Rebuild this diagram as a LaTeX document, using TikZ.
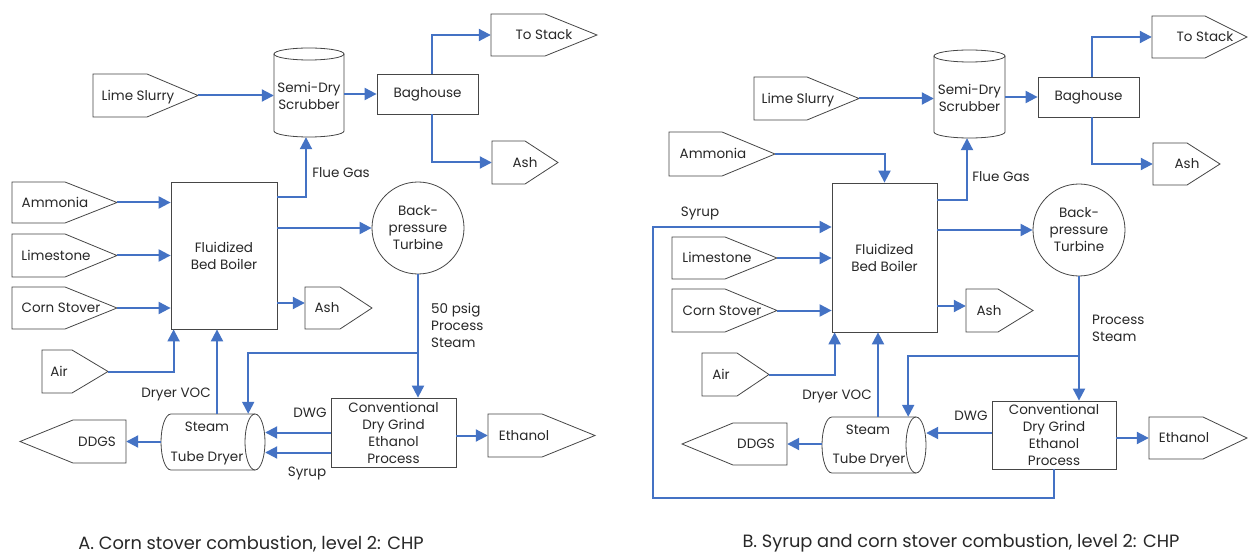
\documentclass[tikz,border=0pt]{standalone}
\usepackage{fontspec}
\setmainfont{Poppins}
\usetikzlibrary{arrows.meta,fit,calc}
\definecolor{flowblue}{RGB}{68,114,196}
\definecolor{edgegray}{RGB}{70,70,70}
\definecolor{txtgray}{RGB}{40,40,40}
\tikzset{
  shapeline/.style={draw=edgegray, line width=0.8pt},
  txt/.style={inner sep=0pt, text=txtgray, font=\fontsize{13.5}{17}\selectfont, text height=9.5pt, text depth=0pt},
  mtxt/.style={inner sep=0pt, text=txtgray, font=\fontsize{13.5}{17}\selectfont},
  box/.style={shapeline, inner sep=0pt, align=center, text=txtgray, font=\fontsize{13.5}{17}\selectfont},
  flow/.style={draw=flowblue, line width=2pt, -{Triangle[length=12pt,width=12pt]}},
  caption/.style={inner sep=0pt, text=txtgray, font=\fontsize{17.8}{21}\selectfont}
}
% right-pointing input/output shape: name, left, top, right(tip), bottom, slant x, text x, text
\newcommand\pentR[8]{%
  \draw[shapeline] (#2,-#3) -- (#6,-#3) -- (#4,{-(#3+#5)/2}) -- (#6,-#5) -- (#2,-#5) -- cycle;
  \node[fit={(#2,-#3) (#4,-#5)}, inner sep=0pt] (#1) {};
  \node[txt] (#1-t) at (#7,{-(#3+#5)/2}) {#8};
}
% left-pointing: name, tip x, top, right, bottom, slant x, text x, text
\newcommand\pentL[8]{%
  \draw[shapeline] (#4,-#3) -- (#6,-#3) -- (#2,{-(#3+#5)/2}) -- (#6,-#5) -- (#4,-#5) -- cycle;
  \node[fit={(#2,-#3) (#4,-#5)}, inner sep=0pt] (#1) {};
  \node[txt] (#1-t) at (#7,{-(#3+#5)/2}) {#8};
}
% vertical cylinder: name, left, top, right, bottom
\newcommand\scrub[5]{%
  \node[fit={(#2,-#3) (#4,-#5)}, inner sep=0pt] (#1) {};
  \draw[shapeline] ({(#2+#4)/2},{-(#3+6)}) ellipse [x radius={(#4-#2)/2}, y radius=6];
  \draw[shapeline] (#2,{-(#3+6)}) -- (#2,{-(#5-6)}) arc[start angle=180, end angle=360, x radius={(#4-#2)/2}, y radius=6] -- (#4,{-(#3+6)});
}
% horizontal cylinder: name, left, top, right, bottom
\newcommand\dryer[5]{%
  \node[fit={(#2,-#3) (#4,-#5)}, inner sep=0pt] (#1) {};
  \draw[shapeline] ({#4-10},{-(#3+#5)/2}) ellipse [x radius=10, y radius={(#5-#3)/2}];
  \draw[shapeline] ({#4-10},-#3) -- ({#2+10},-#3) arc[start angle=90, end angle=270, x radius=10, y radius={(#5-#3)/2}] -- ({#4-10},-#5);
}
\begin{document}
\begin{tikzpicture}[x=1pt,y=1pt]
\useasboundingbox (0,0) rectangle (1248,-556);
\fill[white] (0,0) rectangle (1248,-556);

%%%%%%%%%%%%%%%%%%%% A %%%%%%%%%%%%%%%%%%%%
\pentR{limeA}{93}{74}{198}{117}{147}{138}{Lime Slurry}
\pentR{ammA}{12}{182}{117}{223}{65}{55}{Ammonia}
\pentR{limestA}{12}{234}{117}{277}{65}{56}{Limestone}
\pentR{cornA}{12}{287}{117}{329}{65}{61}{Corn Stover}
\pentR{airA}{42}{350}{108}{393}{72}{59}{Air}
\pentR{stackA}{491}{14}{597}{56}{545}{544}{To Stack}
\pentR{ashAa}{492}{141}{558}{184}{525}{525}{Ash}
\pentR{ashAb}{305}{287}{372}{329}{340}{327}{Ash}
\pentR{ethA}{488}{414}{595}{457}{542}{524}{Ethanol}
\pentL{ddgsA}{20}{420}{126}{463}{73}{97}{DDGS}

\scrub{scrubA}{274}{48}{344}{137}
\node[mtxt, align=center] (scrubA-t) at (309,-95.5) {Semi-Dry\\Scrubber};
\dryer{dryA}{161}{414}{265}{470}
\node[txt] (dryA-t1) at (207,-427) {Steam};
\node[txt] (dryA-t2) at (207,-457) {Tube Dryer};

\node[box, minimum width=106pt, minimum height=147pt] (boilA) at (224,-255.5) {Fluidized\\Bed Boiler};
\node[box, minimum width=101pt, minimum height=40pt] (bagA) at (427.5,-94) {Baghouse};
\node[box, minimum width=125pt, minimum height=69pt] (convA) at (393.5,-432.5) {Conventional\\Dry Grind\\Ethanol\\Process};
\node[box, circle, minimum size=92pt] (turbA) at (418,-228) {Back-\\pressure\\Turbine};

\draw[flow] (limeA.east) -- (limeA.east -| scrubA.west);
\draw[flow] (scrubA.east |- bagA.west) -- (bagA.west);
\draw[flow] ([xshift=4pt]bagA.north) |- (stackA.west);
\draw[flow] ([xshift=4pt]bagA.south) |- (ashAa.west);
\draw[flow] ([yshift=-15pt]boilA.north east) -| ([xshift=-3pt]scrubA.south);
\draw[flow] (boilA.east |- turbA.west) -- (turbA.west);
\draw[flow] (ammA.east) -- (ammA.east -| boilA.west);
\draw[flow] (limestA.east) -- (limestA.east -| boilA.west);
\draw[flow] (cornA.east) -- (cornA.east -| boilA.west);
\draw[flow] ([yshift=5pt]ashAb.west -| boilA.east) -- ([yshift=5pt]ashAb.west);
\draw[flow] (airA.east) -| ([xshift=3pt]boilA.south west);
\draw[flow] ([xshift=4pt]dryA.north) -- ([xshift=4pt]dryA.north |- boilA.south);
\draw[flow] (turbA.south) -- (turbA.south |- convA.north);
\coordinate (stA) at (418,-353);
\draw[flow] (stA) -| ([xshift=-17pt]dryA.north east);
\draw[flow] (convA.west) -- (convA.west -| dryA.east);
\draw[flow] ([yshift=-20pt]convA.west) -- ([yshift=-20pt]convA.west -| dryA.east);
\draw[flow] (convA.east |- ethA.west) -- (ethA.west);
\draw[flow] (dryA.west |- ddgsA.east) -- (ddgsA.east);

\node[txt] (flueA) at (341,-173) {Flue Gas};
\node[mtxt, align=left, anchor=north west] (psA) at (431,-303) {50 psig\\Process\\Steam};
\node[txt] (vocA) at (176,-393) {Dryer VOC};
\node[txt] (dwgA) at (310,-413) {DWG};
\node[txt] (syrA) at (307,-472) {Syrup};

\node[caption] (capA) at (251,-543.5) {A. Corn stover combustion, level 2: CHP};

%%%%%%%%%%%%%%%%%%%% B %%%%%%%%%%%%%%%%%%%%
\pentR{limeB}{754}{77}{859}{120}{807}{798}{Lime Slurry}
\pentR{ammB}{669}{132}{775}{176}{722}{713}{Ammonia}
\pentR{limestB}{672}{237}{777}{279}{725}{717}{Limestone}
\pentR{cornB}{672}{289}{777}{332}{725}{722}{Corn Stover}
\pentR{airB}{702}{353}{769}{396}{737}{721}{Air}
\pentR{stackB}{1152}{16}{1247}{58}{1205}{1205}{To Stack}
\pentR{ashBa}{1153}{143}{1220}{185}{1187}{1187}{Ash}
\pentR{ashBb}{966}{289}{1033}{332}{998}{989}{Ash}
\pentR{ethB}{1149}{417}{1247}{459}{1203}{1184}{Ethanol}
\pentL{ddgsB}{682}{423}{787}{465}{733}{756}{DDGS}

\scrub{scrubB}{934}{50}{1005}{138}
\node[mtxt, align=center] (scrubB-t) at (969.5,-98) {Semi-Dry\\Scrubber};
\dryer{dryB}{822}{417}{926}{473}
\node[txt] (dryB-t1) at (868,-430) {Steam};
\node[txt] (dryB-t2) at (869,-459) {Tube Dryer};

\node[box, minimum width=105pt, minimum height=149pt] (boilB) at (884.5,-257.5) {Fluidized\\Bed Boiler};
\node[box, minimum width=101pt, minimum height=40pt] (bagB) at (1088.5,-97) {Baghouse};
\node[box, minimum width=124pt, minimum height=68pt] (convB) at (1054,-435) {Conventional\\Dry Grind\\Ethanol\\Process};
\node[box, circle, minimum size=92pt] (turbB) at (1079,-230) {Back-\\pressure\\Turbine};

\draw[flow] (limeB.east) -- (limeB.east -| scrubB.west);
\draw[flow] (scrubB.east |- bagB.west) -- (bagB.west);
\draw[flow] ([xshift=3.5pt]bagB.north) |- (stackB.west);
\draw[flow] ([xshift=3.5pt]bagB.south) |- (ashBa.west);
\draw[flow] ([yshift=-17pt]boilB.north east) -| ([xshift=-2.5pt]scrubB.south);
\draw[flow] (boilB.east |- turbB.west) -- (turbB.west);
\draw[flow] (ammB.east) -| (boilB.north);
\draw[flow] (limestB.east) -- (limestB.east -| boilB.west);
\draw[flow] (cornB.east) -- (cornB.east -| boilB.west);
\draw[flow] ([yshift=4.5pt]ashBb.west -| boilB.east) -- ([yshift=4.5pt]ashBb.west);
\draw[flow] (airB.east) -| ([xshift=3pt]boilB.south west);
\draw[flow] ([xshift=4pt]dryB.north) -- ([xshift=4pt]dryB.north |- boilB.south);
\draw[flow] (turbB.south) -- (turbB.south |- convB.north);
\coordinate (stB) at (1079,-356);
\draw[flow] (stB) -| ([xshift=-18pt]dryB.north east);
\draw[flow] ([yshift=2pt]convB.west) -- ([yshift=2pt]convB.west -| dryB.east);
\draw[flow] (convB.east |- ethB.west) -- (ethB.west);
\draw[flow] (dryB.west |- ddgsB.east) -- (ddgsB.east);
\coordinate (loopB) at (653,-498);
\draw[flow] (convB.south) |- (loopB) |- ([yshift=30.5pt]boilB.west);

\node[txt] (syrB) at (700,-212) {Syrup};
\node[txt] (flueB) at (1001,-177) {Flue Gas};
\node[mtxt, align=left, anchor=north west] (psB) at (1092,-315) {Process\\Steam};
\node[txt] (vocB) at (837,-395) {Dryer VOC};
\node[txt] (dwgB) at (971,-416) {DWG};

\node[caption] (capB) at (961,-543.5) {B. Syrup and corn stover combustion, level 2: CHP};
\end{tikzpicture}
\end{document}
